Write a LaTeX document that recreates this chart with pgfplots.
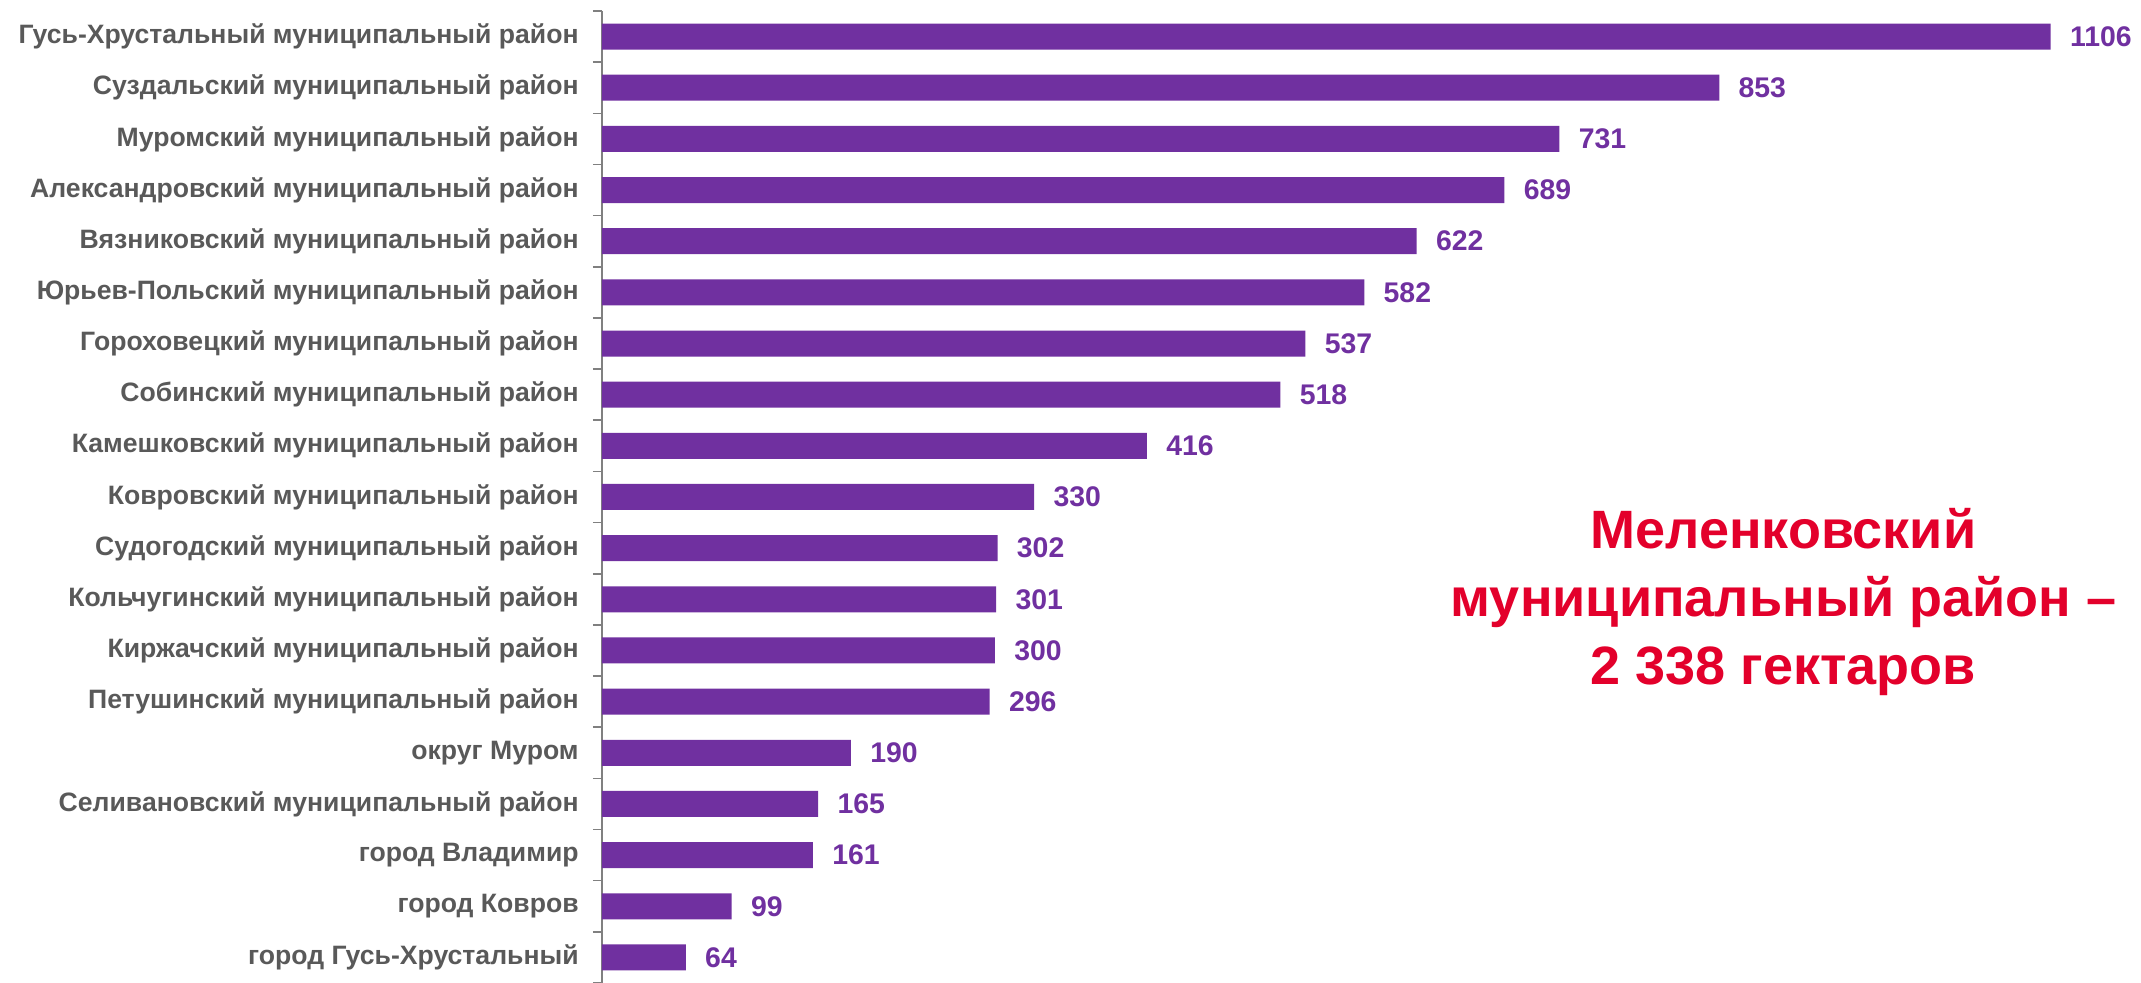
\documentclass[border=0pt]{standalone}
\usepackage{pgfplots}
\pgfplotsset{compat=1.18}
\usepackage{fontspec}
\setmainfont{Liberation Sans}
\definecolor{barpurple}{RGB}{112,48,160}
\definecolor{labelgray}{RGB}{89,89,89}
\definecolor{accentred}{RGB}{227,0,43}
\begin{document}
\begin{tikzpicture}
\begin{axis}[
    scale only axis,
    width=769.5pt, height=486pt,
    xbar, bar width=13pt,
    xmin=0, xmax=1175,
    ymin=-0.5, ymax=18.5,
    y dir=reverse,
    axis lines*=left,
    x axis line style={draw=none},
    y axis line style={-, draw=gray, line width=0.8pt},
    xtick=\empty,
    ytick={0,...,18},
    minor ytick={-0.5,0.5,...,18.5},
    major tick length=0pt,
    minor tick length=4.5pt,
    tick align=outside,
    minor tick style={draw=gray, line width=0.8pt},
    yticklabels={
        Гусь-Хрустальный муниципальный район,
        Суздальский муниципальный район,
        Муромский муниципальный район,
        Александровский муниципальный район,
        Вязниковский муниципальный район,
        Юрьев-Польский муниципальный район,
        Гороховецкий муниципальный район,
        Собинский муниципальный район,
        Камешковский муниципальный район,
        Ковровский муниципальный район,
        Судогодский муниципальный район,
        Кольчугинский муниципальный район,
        Киржачский муниципальный район,
        Петушинский муниципальный район,
        округ Муром,
        Селивановский муниципальный район,
        город Владимир,
        город Ковров,
        город Гусь-Хрустальный},
    yticklabel style={font=\fontsize{13.3}{15}\selectfont\bfseries, text=labelgray, inner sep=0pt, xshift=-11.5pt},
    nodes near coords,
    nodes near coords style={font=\fontsize{14.2}{16}\selectfont\bfseries, text=barpurple, anchor=west, inner sep=0pt, xshift=9.5pt,
        /pgf/number format/1000 sep={}, /pgf/number format/assume math mode=true},
    clip=false,
]
\addplot[fill=barpurple, draw=none] coordinates {
    (1106,0) (853,1) (731,2) (689,3) (622,4) (582,5) (537,6) (518,7) (416,8)
    (330,9) (302,10) (301,11) (300,12) (296,13) (190,14) (165,15) (161,16) (99,17) (64,18)
};
\node[align=center, text=accentred, font=\fontsize{27}{34}\selectfont\bfseries] at (axis cs:902,11.05)
    {Меленковский\\муниципальный район –\\2 338 гектаров};
\end{axis}
\pgfresetboundingbox
\path (-301pt,0pt) rectangle (769.5pt,491.5pt);
\end{tikzpicture}
\end{document}
